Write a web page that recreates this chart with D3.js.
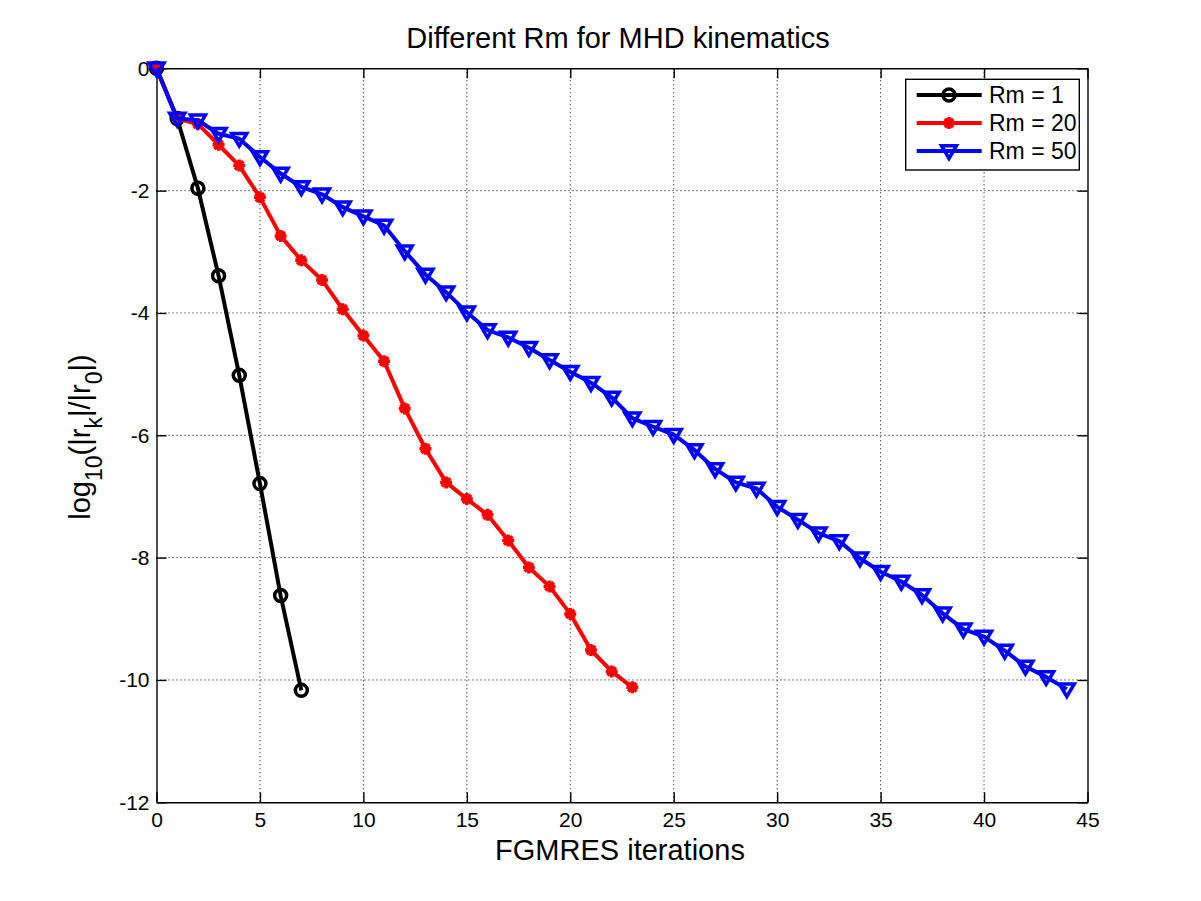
<!DOCTYPE html>
<html>
<head>
<meta charset="utf-8">
<script src="https://cdn.jsdelivr.net/npm/d3@7"></script>
<style>
  body { margin: 0; background: #fff; }
  svg { display: block; font-family: "Liberation Sans", Arial, sans-serif; }
  .axis path, .axis line { stroke: #000; stroke-width: 1.4; }
  .axis text { font-size: 21px; fill: #000; font-family: "Liberation Sans", Arial, sans-serif; }
</style>
</head>
<body>
<div id="chart"></div>
<script>
// residual history, log10(|r_k|/|r_0|) per FGMRES iteration
const rm1 = [0, -0.82, -1.96, -3.39, -5.02, -6.79, -8.62, -10.17];
const rm20 = [0, -0.82, -0.91, -1.25, -1.59, -2.11, -2.74, -3.14, -3.46, -3.94,
  -4.37, -4.79, -5.56, -6.22, -6.77, -7.04, -7.30, -7.72, -8.16, -8.47,
  -8.92, -9.51, -9.86, -10.12];
const rm50 = [0, -0.82, -0.85, -1.07, -1.15, -1.45, -1.72, -1.94, -2.06, -2.27,
  -2.42, -2.57, -2.99, -3.37, -3.66, -3.99, -4.28, -4.40, -4.57, -4.77,
  -4.96, -5.14, -5.38, -5.72, -5.86, -5.99, -6.24, -6.55, -6.77, -6.87,
  -7.17, -7.38, -7.60, -7.73, -8.01, -8.23, -8.39, -8.61, -8.91, -9.17,
  -9.29, -9.52, -9.78, -9.95, -10.15];
const seriesNames = ["Rm = 1", "Rm = 20", "Rm = 50"];
const xTicks = [0, 5, 10, 15, 20, 25, 30, 35, 40, 45];
const yTicks = [0, -2, -4, -6, -8, -10, -12];

{ // start block scope

  const width = 1201, height = 901;
  const margin = { left: 156.5, right: 1087.5, top: 68.3, bottom: 802.3 };

  const svg = d3.select("#chart").append("svg")
    .attr("width", width)
    .attr("height", height);

  const x = d3.scaleLinear().domain([0, 45]).range([margin.left, margin.right]);
  const y = d3.scaleLinear().domain([-12, 0]).range([margin.bottom, margin.top]);

  // grid
  const grid = svg.append("g").attr("stroke", "#000").attr("stroke-width", 1)
    .attr("stroke-dasharray", "1,3");
  grid.selectAll(".gx").data(xTicks.slice(1, -1)).enter().append("line")
    .attr("x1", d => x(d)).attr("x2", d => x(d))
    .attr("y1", margin.top).attr("y2", margin.bottom);
  grid.selectAll(".gy").data(yTicks.slice(1, -1)).enter().append("line")
    .attr("y1", d => y(d)).attr("y2", d => y(d))
    .attr("x1", margin.left).attr("x2", margin.right);

  // axes, ticks pointing inwards on all four sides; plain hyphen for minus
  const fmt = d => String(d);
  svg.append("g").attr("class", "axis")
    .attr("transform", `translate(0,${margin.bottom})`)
    .call(d3.axisBottom(x).tickValues(xTicks).tickFormat(fmt)
      .tickSizeInner(-10).tickSizeOuter(0).tickPadding(10));
  svg.append("g").attr("class", "axis")
    .attr("transform", `translate(${margin.left},0)`)
    .call(d3.axisLeft(y).tickValues(yTicks).tickFormat(fmt)
      .tickSizeInner(-10).tickSizeOuter(0).tickPadding(7));
  svg.append("g").attr("class", "axis")
    .attr("transform", `translate(0,${margin.top})`)
    .call(d3.axisTop(x).tickValues(xTicks).tickSizeInner(-10).tickSizeOuter(0).tickFormat(""));
  svg.append("g").attr("class", "axis")
    .attr("transform", `translate(${margin.right},0)`)
    .call(d3.axisRight(y).tickValues(yTicks).tickSizeInner(-10).tickSizeOuter(0).tickFormat(""));
  svg.selectAll(".axis").attr("font-family", null).attr("font-size", null);

  // markers
  const circleMark = (g, r) => g.append("circle").attr("r", r)
    .attr("fill", "none").attr("stroke", "#000").attr("stroke-width", 3.5);
  const starMark = (g, s) => {
    g.append("circle").attr("r", s * 0.7).attr("fill", "#f00");
    g.append("path")
      .attr("d", `M${-s},0H${s}M0,${-s}V${s}M${-s * 0.7},${-s * 0.7}L${s * 0.7},${s * 0.7}M${-s * 0.7},${s * 0.7}L${s * 0.7},${-s * 0.7}`)
      .attr("stroke", "#f00").attr("stroke-width", 3.5).attr("fill", "none");
  };
  const triMark = (g, s) => g.append("path")
    .attr("d", `M${-s},${-s * 0.7}L${s},${-s * 0.7}L0,${s}Z`)
    .attr("fill", "none").attr("stroke", "#00f").attr("stroke-width", 3.5);

  const series = [
    { name: seriesNames[0], values: rm1, color: "#000", mark: g => circleMark(g, 6) },
    { name: seriesNames[1], values: rm20, color: "#f00", mark: g => starMark(g, 6) },
    { name: seriesNames[2], values: rm50, color: "#00f", mark: g => triMark(g, 7.5) }
  ];

  const line = d3.line().x((d, i) => x(i)).y(d => y(d));

  series.forEach(s => {
    const g = svg.append("g");
    g.append("path")
      .datum(s.values)
      .attr("d", line)
      .attr("fill", "none")
      .attr("stroke", s.color)
      .attr("stroke-width", 4)
      .attr("stroke-linejoin", "round");
    g.selectAll(".m").data(s.values).enter().append("g")
      .attr("transform", (d, i) => `translate(${x(i)},${y(d)})`)
      .each(function () { s.mark(d3.select(this)); });
  });

  // legend
  const legend = svg.append("g");
  legend.append("rect")
    .attr("x", 905.7).attr("y", 79.3)
    .attr("width", 173.6).attr("height", 90.7)
    .attr("fill", "#fff").attr("stroke", "#000").attr("stroke-width", 1.4);
  series.forEach((s, i) => {
    const ly = 95 + i * 28;
    legend.append("line")
      .attr("x1", 916.7).attr("x2", 981.7).attr("y1", ly).attr("y2", ly)
      .attr("stroke", s.color).attr("stroke-width", 4);
    s.mark(legend.append("g").attr("transform", `translate(949,${ly})`));
    legend.append("text")
      .attr("x", 989).attr("y", ly + 8)
      .attr("font-size", 23)
      .text(s.name);
  });

  // title and labels
  svg.append("text")
    .attr("x", 618).attr("y", 48)
    .attr("text-anchor", "middle")
    .attr("font-size", 29)
    .text("Different Rm for MHD kinematics");

  svg.append("text")
    .attr("x", 620).attr("y", 860)
    .attr("text-anchor", "middle")
    .attr("font-size", 29)
    .text("FGMRES iterations");

  const yl = svg.append("text")
    .attr("transform", "rotate(-90)")
    .attr("x", -437).attr("y", 90)
    .attr("text-anchor", "middle")
    .attr("font-size", 29);
  yl.append("tspan").text("log");
  yl.append("tspan").attr("dy", 12).attr("font-size", 23).text("10");
  yl.append("tspan").attr("dy", -12).text("(|r");
  yl.append("tspan").attr("dy", 12).attr("font-size", 23).text("k");
  yl.append("tspan").attr("dy", -12).text("|/|r");
  yl.append("tspan").attr("dy", 12).attr("font-size", 23).text("0");
  yl.append("tspan").attr("dy", -12).text("|)");

} // end block scope
</script>
</body>
</html>
